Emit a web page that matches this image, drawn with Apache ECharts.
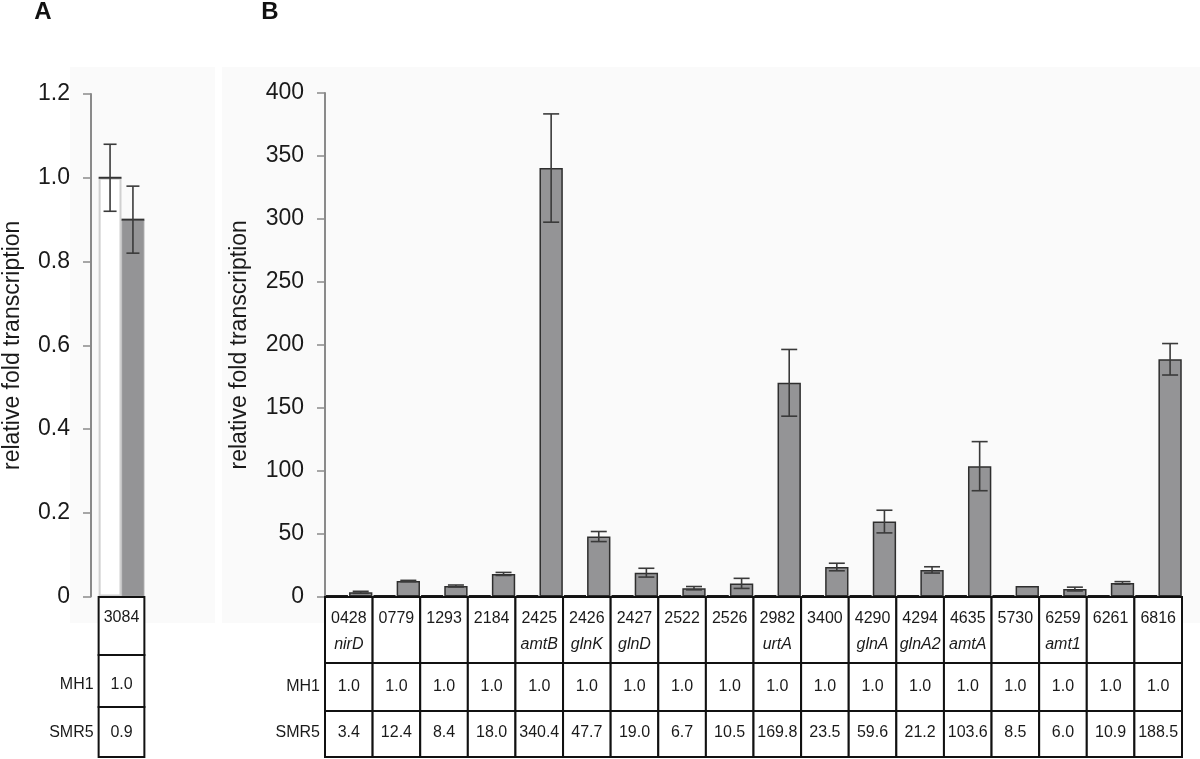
<!DOCTYPE html>
<html><head><meta charset="utf-8">
<script src="https://cdn.jsdelivr.net/npm/echarts@6/dist/echarts.min.js"></script>
<style>html,body{margin:0;padding:0;background:#fff}#c{width:1200px;height:759px}</style>
</head><body><div id="c"></div>
<script>
// ---- Panel A data ----
const catA = ['3084'];
const geneA = [''];
const mh1A = [1.0];
const smr5A = [0.9];
const mh1ErrA = [0.08];
const smr5ErrA = [0.08];
const yTicksA = [0, 0.2, 0.4, 0.6, 0.8, 1.0, 1.2];

// ---- Panel B data ----
const catB = ['0428','0779','1293','2184','2425','2426','2427','2522','2526','2982','3400','4290','4294','4635','5730','6259','6261','6816'];
const geneB = ['nirD','','','','amtB','glnK','glnD','','','urtA','','glnA','glnA2','amtA','','amt1','',''];
const mh1B = [1.0,1.0,1.0,1.0,1.0,1.0,1.0,1.0,1.0,1.0,1.0,1.0,1.0,1.0,1.0,1.0,1.0,1.0];
const smr5B = [3.4,12.4,8.4,18.0,340.4,47.7,19.0,6.7,10.5,169.8,23.5,59.6,21.2,103.6,8.5,6.0,10.9,188.5];
const smr5ErrB = [0.8,0.5,0.8,1.2,43,4,3.5,1.3,4,26.5,3,9,2.5,19.5,0,1.5,1,12.5];
const yTicksB = [0, 50, 100, 150, 200, 250, 300, 350, 400];

const FONT = '"Liberation Sans", Arial, Helvetica, sans-serif';
const chart = echarts.init(document.getElementById('c'));

function tableItem(cats, genes, mh1, smr5, cfg) {
  return function (params, api) {
    const i = api.value(0);
    const p = api.coord([i, 0]);
    const bw = api.size([1, 0])[0];
    const w = bw * cfg.frac;
    const x0 = p[0] - w / 2;
    const y0 = cfg.top;
    const r = cfg.rows;
    const cx = p[0];
    const ts = (t, x, y, extra) => ({type: 'text', z2: 10, style: Object.assign({text: t, x: x, y: y, align: 'center', verticalAlign: 'middle', fontSize: 16, fontFamily: FONT, fill: '#1a1a1a'}, extra || {})});
    const rect = (y, h) => ({type: 'rect', shape: {x: x0, y: y, width: w, height: h}, style: {fill: '#fff', stroke: '#111', lineWidth: 2}});
    const ch = [
      rect(y0, r[0]), rect(y0 + r[0], r[1]), rect(y0 + r[0] + r[1], r[2]),
      ts(cats[i], cx, y0 + cfg.idY),
      ts(genes[i], cx, y0 + cfg.nameY, {fontStyle: 'italic'}),
      ts(mh1[i].toFixed(1), cx, y0 + cfg.mhY),
      ts(smr5[i].toFixed(1), cx, y0 + cfg.smY)
    ];
    if (i === 0) {
      ch.push(ts('MH1', x0 - 5, y0 + cfg.mhY, {align: 'right'}));
      ch.push(ts('SMR5', x0 - 5, y0 + cfg.smY, {align: 'right'}));
    }
    return {type: 'group', children: ch};
  };
}

function errItem(cfg) {
  return function (params, api) {
    const i = api.value(0), v = api.value(1), e = api.value(2);
    const c = api.coord([i, v]);
    const bw = api.size([1, 0])[0];
    const x = c[0] + bw * cfg.off;
    const ch = [];
    if (cfg.meanLine) {
      const hw = bw * cfg.barFrac / 2;
      ch.push({type: 'line', shape: {x1: x - hw, y1: c[1], x2: x + hw, y2: c[1]}, style: {stroke: '#333', lineWidth: 2}});
    }
    if (e > 0) {
      const t = api.coord([i, v + e])[1], b = api.coord([i, v - e])[1];
      const cw = cfg.cap / 2;
      const st = {stroke: '#3a3a3a', lineWidth: 1.6};
      ch.push({type: 'line', shape: {x1: x, y1: t, x2: x, y2: b}, style: st});
      ch.push({type: 'line', shape: {x1: x - cw, y1: t, x2: x + cw, y2: t}, style: st});
      ch.push({type: 'line', shape: {x1: x - cw, y1: b, x2: x + cw, y2: b}, style: st});
    }
    return {type: 'group', children: ch};
  };
}

const yAxisCommon = {
  type: 'value',
  name: 'relative fold transcription',
  nameLocation: 'middle',
  nameTextStyle: {fontSize: 23, fontFamily: FONT, color: '#1a1a1a'},
  axisLine: {show: true, lineStyle: {color: '#8a8a8a', width: 2}},
  axisTick: {show: true, length: 8, lineStyle: {color: '#8a8a8a', width: 1.5}},
  splitLine: {show: false},
  axisLabel: {fontSize: 23, fontFamily: FONT, color: '#1a1a1a', margin: 21}
};

chart.setOption({
  backgroundColor: '#fff',
  animation: false,
  graphic: [
    {type: 'rect', z: -100, silent: true, shape: {x: 70, y: 67, width: 145, height: 556}, style: {fill: '#fafafa'}},
    {type: 'rect', z: -100, silent: true, shape: {x: 222, y: 67, width: 978, height: 556}, style: {fill: '#fafafa'}},
    {type: 'text', style: {text: 'A', x: 43, y: 12, align: 'center', verticalAlign: 'middle', fontSize: 24, fontWeight: 'bold', fontFamily: FONT, fill: '#111'}},
    {type: 'text', style: {text: 'B', x: 270, y: 12, align: 'center', verticalAlign: 'middle', fontSize: 24, fontWeight: 'bold', fontFamily: FONT, fill: '#111'}}
  ],
  grid: [
    {left: 88, top: 94, width: 64, height: 502.6},
    {left: 325, top: 93, width: 857, height: 503.6}
  ],
  xAxis: [
    {type: 'category', gridIndex: 0, data: catA, show: false},
    {type: 'category', gridIndex: 1, data: catB, show: false}
  ],
  yAxis: [
    Object.assign({}, yAxisCommon, {gridIndex: 0, min: yTicksA[0], max: yTicksA[yTicksA.length - 1], interval: 0.2, nameGap: 67,
      axisLabel: Object.assign({}, yAxisCommon.axisLabel, {formatter: v => v === 0 ? '0' : v.toFixed(1)})}),
    Object.assign({}, yAxisCommon, {gridIndex: 1, min: yTicksB[0], max: yTicksB[yTicksB.length - 1], interval: 50, nameGap: 74})
  ],
  series: [
    {type: 'bar', xAxisIndex: 0, yAxisIndex: 0, data: mh1A, barCategoryGap: '25%', barGap: '0%',
      itemStyle: {color: '#ffffff', borderColor: '#d0d0d0', borderWidth: 2}},
    {type: 'bar', xAxisIndex: 0, yAxisIndex: 0, data: smr5A,
      itemStyle: {color: '#949496', borderColor: '#a0a0a2', borderWidth: 1}},
    {type: 'custom', xAxisIndex: 0, yAxisIndex: 0, z: 5, renderItem: errItem({off: -0.1875, cap: 13, meanLine: true, barFrac: 0.375}),
      data: mh1A.map((v, i) => [i, v, mh1ErrA[i]])},
    {type: 'custom', xAxisIndex: 0, yAxisIndex: 0, z: 5, renderItem: errItem({off: 0.1875, cap: 13, meanLine: true, barFrac: 0.375}),
      data: smr5A.map((v, i) => [i, v, smr5ErrA[i]])},
    {type: 'custom', xAxisIndex: 0, yAxisIndex: 0, z: 6,
      renderItem: tableItem(catA, geneA, mh1A, smr5A, {frac: 0.75, top: 597, rows: [58, 52, 50], idY: 21, nameY: 47, mhY: 88, smY: 136}),
      data: catA.map((c, i) => [i])},

    {type: 'bar', xAxisIndex: 1, yAxisIndex: 1, data: mh1B, barCategoryGap: '1%', barGap: '2%',
      itemStyle: {color: '#ffffff', borderColor: '#1a1a1a', borderWidth: 2}},
    {type: 'bar', xAxisIndex: 1, yAxisIndex: 1, data: smr5B,
      itemStyle: {color: '#949496', borderColor: '#2e2e2e', borderWidth: 1.5}},
    {type: 'custom', xAxisIndex: 1, yAxisIndex: 1, z: 5, renderItem: errItem({off: 0.25, cap: 16, meanLine: false}),
      data: smr5B.map((v, i) => [i, v, smr5ErrB[i]])},
    {type: 'custom', xAxisIndex: 1, yAxisIndex: 1, z: 6,
      renderItem: tableItem(catB, geneB, mh1B, smr5B, {frac: 1, top: 597, rows: [66, 48, 46], idY: 22, nameY: 48, mhY: 90, smY: 136}),
      data: catB.map((c, i) => [i])}
  ]
});
</script></body></html>
